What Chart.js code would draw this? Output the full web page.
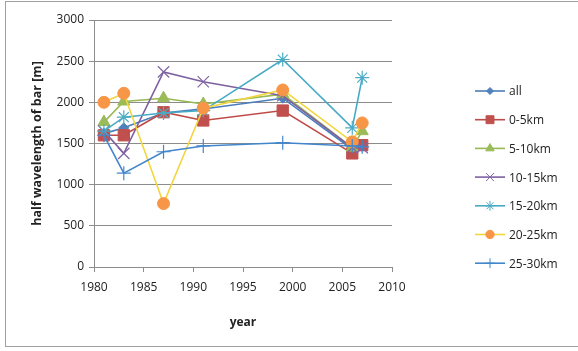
<!DOCTYPE html>
<html>
<head>
  <meta charset="UTF-8" />
  <title>half wavelength of bar</title>
  <style>
    html, body { margin: 0; padding: 0; background: #fff; }
    #wrap { width: 578px; height: 351px; }
  </style>
  <script src="https://cdn.jsdelivr.net/npm/chart.js"></script>
</head>
<body>
  <div id="wrap"><canvas id="barChart" width="578" height="351"></canvas></div>
  <script>
    // survey years and values
    const years = [1981, 1983, 1987, 1991, 1999, 2006, 2007];
    const seriesNames = ["all", "0-5km", "5-10km", "10-15km", "15-20km", "20-25km", "25-30km"];
    const allKm   = [1620, 1690, 1870, 1920, 2050, 1430, 1470];
    const km0_5   = [1600, 1600, 1880, 1780, 1900, 1380, 1480];
    const km5_10  = [1760, 2010, 2050, 1980, 2100, 1450, 1650];
    const km10_15 = [1650, 1380, 2370, 2250, 2080, 1450, 1450];
    const km15_20 = [1650, 1820, 1870, 1900, 2520, 1690, 2300];
    const km20_25 = [2000, 2110, 770, 1930, 2150, 1520, 1750];
    const km25_30 = [1600, 1140, 1400, 1470, 1510, 1470, 1460];
    const xTicks = [1980, 1985, 1990, 1995, 2000, 2005, 2010];
    const yTicks = [0, 500, 1000, 1500, 2000, 2500, 3000];

    const values = [allKm, km0_5, km5_10, km10_15, km15_20, km20_25, km25_30];
    const lineColors = ["#4A7EBB", "#BE4B48", "#98B954", "#7D60A0", "#46AAC5", "#F2D640", "#4287CC"];
    const markColors = ["#4F81BD", "#C0504D", "#9BBB59", "#8064A2", "#4BACC6", "#F79646", "#4287CC"];
    const styles = ["rectRot", "rect", "triangle", "crossRot", "star", "circle", "cross"];
    const radii = [5, 8, 7, 8, 7, 6, 7];
    const thin = ["crossRot", "star", "cross"];
    const font = "'Open Sans', sans-serif";

    const datasets = values.map((vals, i) => ({
      label: seriesNames[i],
      data: years.map((y, j) => ({ x: y, y: vals[j] })),
      borderColor: lineColors[i],
      backgroundColor: markColors[i],
      pointBorderColor: markColors[i],
      pointBackgroundColor: markColors[i],
      pointStyle: styles[i],
      pointRadius: radii[i],
      pointBorderWidth: thin.includes(styles[i]) ? 1.2 : 1,
      borderWidth: 1.6,
      tension: 0,
      order: values.length - i
    }));

    // Excel style legend: short line with marker, label to the right
    const sideLegend = {
      id: "sideLegend",
      afterDraw(chart) {
        const ctx = chart.ctx;
        ctx.save();
        datasets.forEach((ds, i) => {
          const y = 91 + i * 28.7;
          ctx.strokeStyle = ds.borderColor;
          ctx.lineWidth = 1.6;
          ctx.beginPath();
          ctx.moveTo(475, y);
          ctx.lineTo(505, y);
          ctx.stroke();
          const r = ds.pointRadius * 0.7;
          ctx.strokeStyle = ds.pointBorderColor;
          ctx.fillStyle = ds.pointBackgroundColor;
          ctx.lineWidth = 1;
          Chart.helpers.drawPoint(ctx, { pointStyle: ds.pointStyle, radius: r, borderWidth: 1, rotation: 0 }, 490, y);
          ctx.fillStyle = "#222";
          ctx.font = "12px " + font;
          ctx.textAlign = "left";
          ctx.textBaseline = "middle";
          ctx.fillText(ds.label, 509, y + 1);
        });
        ctx.restore();
      }
    };

    const frame = {
      id: "frame",
      beforeDraw(chart) {
        const ctx = chart.ctx;
        ctx.save();
        ctx.strokeStyle = "#a0a0a0";
        ctx.lineWidth = 1;
        ctx.strokeRect(5.5, 1.5, 580, 345);
        ctx.restore();
      }
    };

    new Chart(document.getElementById("barChart"), {
      type: "line",
      data: { datasets },
      plugins: [frame, sideLegend],
      options: {
        responsive: false,
        animation: false,
        layout: { padding: { left: 22, right: 186, top: 20, bottom: 14 } },
        plugins: { legend: { display: false }, tooltip: { enabled: false } },
        scales: {
          x: {
            type: "linear",
            min: 1980,
            max: 2010,
            afterBuildTicks: s => { s.ticks = xTicks.map(v => ({ value: v })); },
            afterFit: s => { s.height = 70; },
            ticks: { color: "#222", padding: 8, maxRotation: 0, callback: v => String(v), font: { family: font, size: 12 } },
            grid: { drawOnChartArea: false, drawTicks: true, tickLength: 5, color: "#8c8c8c" },
            border: { color: "#8c8c8c", width: 1 },
            title: { display: true, text: "year", color: "#222", padding: { top: 4, bottom: 7 }, font: { family: font, size: 12, weight: "bold" } }
          },
          y: {
            min: 0,
            max: 3000,
            afterBuildTicks: s => { s.ticks = yTicks.map(v => ({ value: v })); },
            afterFit: s => { s.width = 72; },
            ticks: { color: "#222", padding: 5, callback: v => String(v), font: { family: font, size: 12 } },
            grid: { color: "#8c8c8c", tickLength: 5 },
            border: { color: "#8c8c8c", width: 1 },
            title: { display: true, text: "half wavelength of bar [m]", color: "#222", padding: { top: 8, bottom: 4 }, font: { family: font, size: 12.5, weight: "bold" } }
          }
        }
      }
    });
  </script>
</body>
</html>
